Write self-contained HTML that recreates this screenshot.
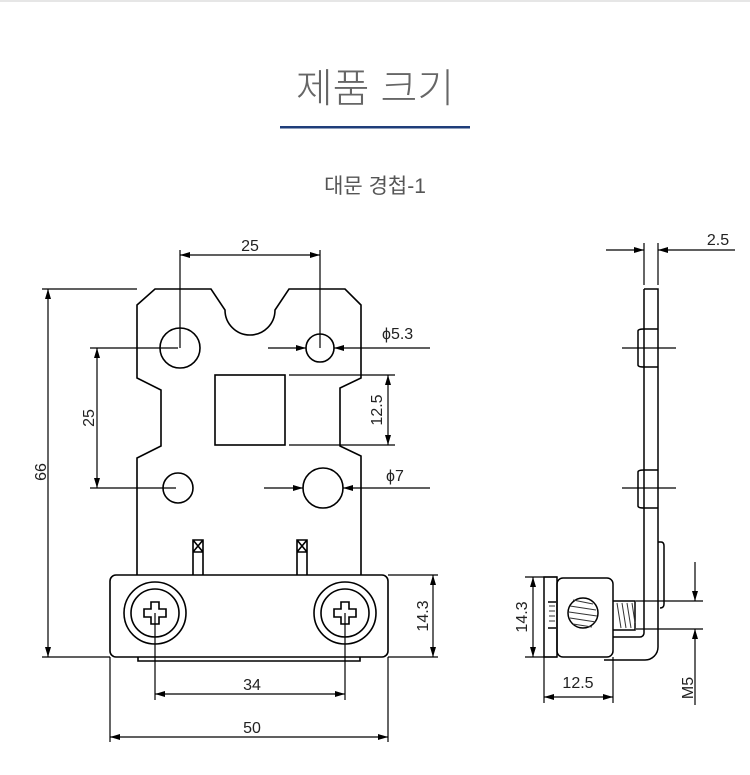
<!DOCTYPE html>
<html><head><meta charset="utf-8"><style>
html,body{margin:0;padding:0;background:#fff;width:750px;height:775px;overflow:hidden}
svg{display:block}
text{font-family:"Liberation Sans","Noto Sans CJK KR",sans-serif;fill:#222}
</style></head><body>
<svg width="750" height="775" viewBox="0 0 750 775" xmlns="http://www.w3.org/2000/svg">
<defs>
<marker id="a" viewBox="0 0 10 6" refX="10" refY="3" markerWidth="12" markerHeight="6" markerUnits="userSpaceOnUse" orient="auto-start-reverse"><path d="M0,0 L10,3 L0,6 z" fill="#000"/></marker>
</defs>
<line x1="0" y1="1" x2="750" y2="1" stroke="#ccc"/>
<text x="375" y="102" font-size="40" text-anchor="middle" style="fill:#666" font-weight="300">제품 크기</text>
<rect x="280" y="126" width="190" height="2.5" fill="#1f3d7a"/>
<text x="375" y="193" font-size="21" text-anchor="middle" style="fill:#555">대문 경첩-1</text>

<g fill="none" stroke="#000" stroke-width="1.6">
<path d="M137,575 L137,458 L161,446 L161,390 L137,378 L137,305 L155,289 L211,289 L225,310 A25,25 0 0 0 275,310 L289,289 L345,289 L361,305 L361,378 L340,388 L340,446 L361,456 L361,575"/>
<circle cx="180" cy="348" r="20"/><circle cx="320" cy="348" r="14"/>
<circle cx="178" cy="488" r="15"/><circle cx="323" cy="488" r="20"/>
<rect x="215" y="375" width="70" height="70"/>
<path d="M193,575 V540 H203 V575 M193,540 l10,12 M203,540 l-10,12 M193,552 H203"/>
<path d="M297,575 V540 H307 V575 M297,540 l10,12 M307,540 l-10,12 M297,552 H307"/>
<rect x="110" y="575" width="278" height="82" rx="6"/>
<path d="M138,657 V661 H360 V657"/>
<circle cx="155" cy="613" r="31"/><circle cx="155" cy="613" r="24"/>
<circle cx="345" cy="613" r="31"/><circle cx="345" cy="613" r="24"/>
<path d="M151,602 h8 v7 h7 v8 h-7 v7 h-8 v-7 h-7 v-8 h7 z"/>
<path d="M341,602 h8 v7 h7 v8 h-7 v7 h-8 v-7 h-7 v-8 h7 z"/>
</g>

<g fill="none" stroke="#000" stroke-width="1.2">
<path d="M180,250 V348 M320,250 V348"/>
<line x1="180" y1="255" x2="320" y2="255" marker-start="url(#a)" marker-end="url(#a)"/>
<path d="M42,289 H137 M42,657 H110"/>
<line x1="48" y1="289" x2="48" y2="657" marker-start="url(#a)" marker-end="url(#a)"/>
<path d="M90,348 H178 M90,488 H176"/>
<line x1="97" y1="348" x2="97" y2="488" marker-start="url(#a)" marker-end="url(#a)"/>
<line x1="268" y1="348" x2="306" y2="348" marker-end="url(#a)"/>
<line x1="430" y1="348" x2="334" y2="348" marker-end="url(#a)"/>
<path d="M289,375 H395 M289,445 H395"/>
<line x1="388" y1="375" x2="388" y2="445" marker-start="url(#a)" marker-end="url(#a)"/>
<line x1="264" y1="488" x2="303" y2="488" marker-end="url(#a)"/>
<line x1="430" y1="488" x2="343" y2="488" marker-end="url(#a)"/>
<path d="M388,575 H438 M388,657 H438"/>
<line x1="433" y1="575" x2="433" y2="657" marker-start="url(#a)" marker-end="url(#a)"/>
<path d="M155,613 V700 M345,613 V700"/>
<line x1="155" y1="694" x2="345" y2="694" marker-start="url(#a)" marker-end="url(#a)"/>
<path d="M110,657 V742 M388,657 V742"/>
<line x1="110" y1="737" x2="388" y2="737" marker-start="url(#a)" marker-end="url(#a)"/>
</g>
<g font-size="16">
<text x="250" y="251" text-anchor="middle">25</text>
<text transform="translate(46,472) rotate(-90)" text-anchor="middle">66</text>
<text transform="translate(94,418) rotate(-90)" text-anchor="middle">25</text>
<text x="382" y="339">ϕ5.3</text>
<text transform="translate(382,410) rotate(-90)" text-anchor="middle">12.5</text>
<text x="386" y="481">ϕ7</text>
<text transform="translate(428,616) rotate(-90)" text-anchor="middle">14.3</text>
<text x="252" y="690" text-anchor="middle">34</text>
<text x="252" y="733" text-anchor="middle">50</text>
</g>

<g fill="none" stroke="#000" stroke-width="1.5">
<path d="M644,289 H658 V647 A13,13 0 0 1 645,660 H604 M644,289 V633 A4,4 0 0 1 640,637 H613"/>
<path d="M644,329 H658 M644,367 H658 M638,331 Q638,329 644,329 M638,331 V365 Q638,367 644,367"/>
<path d="M644,470 H658 M644,508 H658 M638,472 Q638,470 644,470 M638,472 V506 Q638,508 644,508"/>
<path d="M658,542 H661 Q664,542 664,546 V604 Q664,608 660,608"/>
<rect x="557" y="578" width="56" height="79" rx="6"/>
<rect x="544" y="577" width="13" height="80"/>
<circle cx="583" cy="613" r="15"/>
<path d="M613,601 H635 V630 H613"/>
<path d="M548,602 H556 M548,628 H556"/>
</g>
<g stroke="#333" stroke-width="1">
<path d="M570,606 L596,610 M569,612 L597,616 M570,618 L596,622 M573,600 L593,604 M573,624 L592,627"/>
<path d="M617,603 l4,25 M622,603 l4,25 M627,603 l4,25 M632,603 l3,20"/>
<path d="M549,606 h6 M549,611 h6 M549,616 h6 M549,621 h6"/>
</g>
<g fill="none" stroke="#000" stroke-width="1.2">
<path d="M622,348 H676 M622,488 H676"/>
<path d="M644,243 V285 M658,243 V285"/>
<line x1="606" y1="250" x2="644" y2="250" marker-end="url(#a)"/>
<line x1="735" y1="250" x2="658" y2="250" marker-end="url(#a)"/>
<path d="M525,577 H557 M525,657 H557"/>
<line x1="533" y1="577" x2="533" y2="657" marker-start="url(#a)" marker-end="url(#a)"/>
<path d="M544,657 V703 M613,657 V703"/>
<line x1="544" y1="697" x2="613" y2="697" marker-start="url(#a)" marker-end="url(#a)"/>
<path d="M636,601 H703 M636,629 H703"/>
<line x1="695" y1="562" x2="695" y2="601" marker-end="url(#a)"/>
<line x1="695" y1="705" x2="695" y2="629" marker-end="url(#a)"/>
</g>
<g font-size="16">
<text x="718" y="245" text-anchor="middle">2.5</text>
<text transform="translate(527,617) rotate(-90)" text-anchor="middle">14.3</text>
<text x="578" y="688" text-anchor="middle">12.5</text>
<text transform="translate(693,688) rotate(-90)" text-anchor="middle">M5</text>
</g>
</svg>
</body></html>
